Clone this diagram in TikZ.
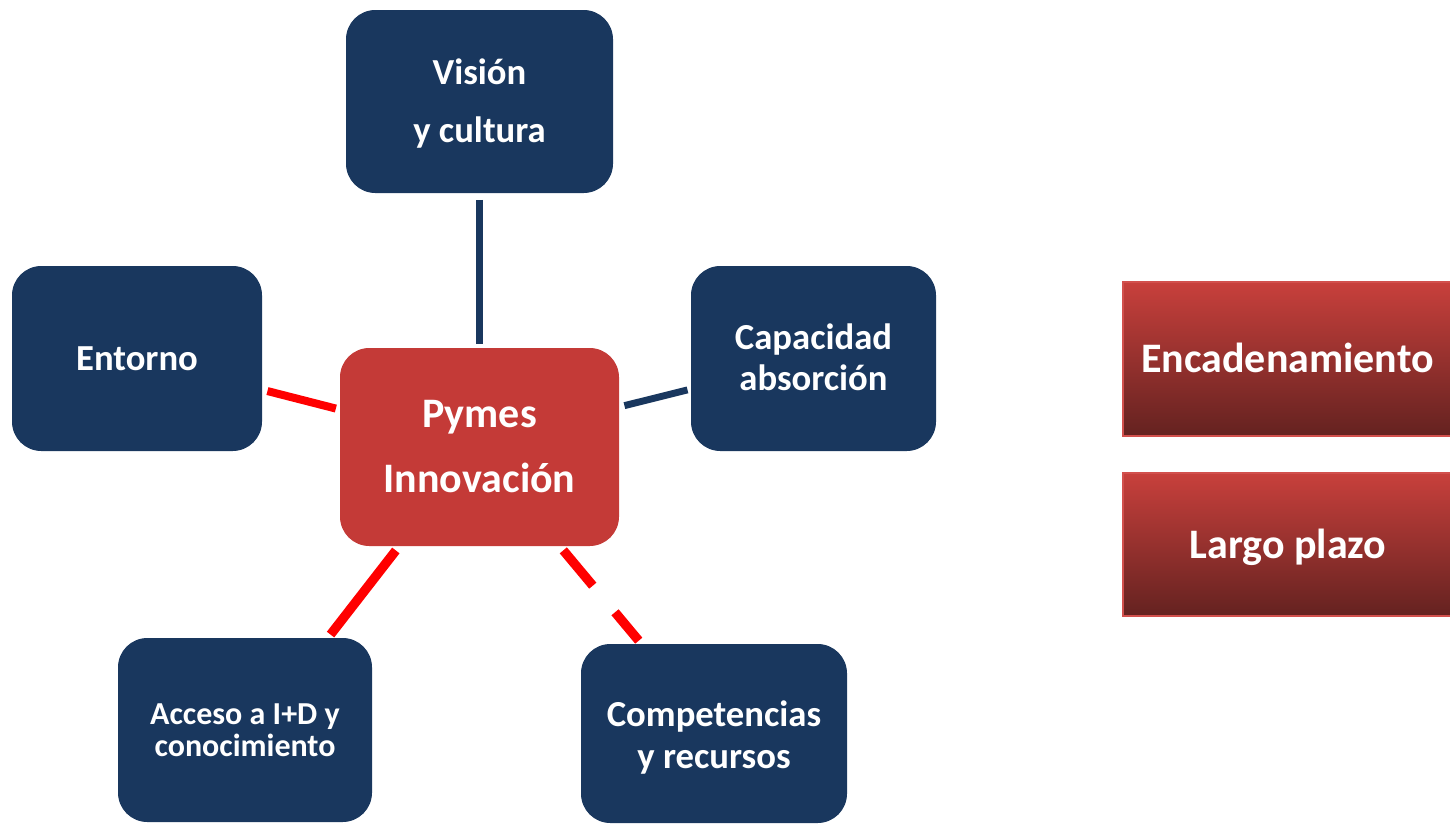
\documentclass[tikz,border=0pt]{standalone}
\usepackage{fontspec}
\setmainfont{Carlito}
\begin{document}
\begin{tikzpicture}[x=0.75pt,y=-0.75pt,
  navybox/.style={fill=navy, draw=none, rounded corners=22pt, inner sep=0pt},
  redbox/.style={fill=pymesred, draw=none, rounded corners=22pt, inner sep=0pt},
  gradbox/.style={top color=gtop, bottom color=gbot, draw=gborder, line width=1.2pt, inner sep=0pt},
  lbl/.style={text=white, align=center, inner sep=0pt},
  navyline/.style={draw=navy, line width=5.2pt, shorten <=4pt, shorten >=2.5pt},
  redline/.style={draw=red, line width=6.5pt, shorten <=4pt, shorten >=3pt},
  txt/.style={font=\fontsize{27.5}{#1}\selectfont\bfseries}
]
\definecolor{navy}{RGB}{25,55,94}
\definecolor{pymesred}{RGB}{196,58,55}
\definecolor{gtop}{RGB}{200,64,60}
\definecolor{gbot}{RGB}{100,34,32}
\definecolor{gborder}{RGB}{210,80,77}
\useasboundingbox (0,0) rectangle (1450,825);
\clip (0,0) rectangle (1450,825);

\node[navybox, minimum width=200.25pt, minimum height=137.25pt] (vision) at (479.5,101.5) {};
\node[lbl, txt=43.5] (visionT) at (479.5,103.5) {Visión\\y cultura};
\node[navybox, minimum width=187.5pt, minimum height=138.75pt] (entorno) at (137,358.5) {};
\node[lbl, txt=33] (entornoT) at (137,358.5) {Entorno};
\node[navybox, minimum width=183.75pt, minimum height=138.75pt] (capacidad) at (813.5,358.5) {};
\node[lbl, txt=30.75] (capacidadT) at (813.5,357.5) {Capacidad\\absorción};
\node[redbox, minimum width=209.25pt, minimum height=148.5pt] (pymes) at (479.5,447) {};
\node[lbl, font=\fontsize{31.5}{48.75}\selectfont\bfseries] (pymesT) at (479.5,447) {Pymes\\Innovación};
\node[navybox, minimum width=190.5pt, minimum height=138pt] (acceso) at (245,730) {};
\node[lbl, font=\fontsize{24}{24}\selectfont\bfseries] (accesoT) at (245,730) {Acceso a I+D y\\conocimiento};
\node[navybox, minimum width=199.5pt, minimum height=134.25pt] (compet) at (714,733.5) {};
\node[lbl, txt=31.5] (competT) at (714,737.5) {Competencias\\y recursos};

\node[gradbox, minimum width=249pt, minimum height=115.5pt] (encad) at (1289,359) {};
\node[lbl, font=\fontsize{31.5}{36}\selectfont\bfseries] (encadT) at (1287.5,358) {Encadenamiento};
\node[gradbox, minimum width=249pt, minimum height=107.25pt] (largo) at (1289,544.5) {};
\node[lbl, font=\fontsize{31.5}{36}\selectfont\bfseries] (largoT) at (1288,547.5) {Largo plazo};

\draw[navyline, shorten <=5pt] (vision.south) -- (pymes.north);
\draw[redline, line width=6pt] (entorno.-14.6) -- (pymes.165.5);
\draw[navyline] (pymes.16) -- (capacidad.194.9);
\draw[redline, line width=7pt] (pymes.231.9) -- (acceso.48.6);
\draw[redline, line width=7pt, dash pattern=on 34.5pt off 26pt] (pymes.-51.6) -- (compet.129.6);
\end{tikzpicture}
\end{document}
